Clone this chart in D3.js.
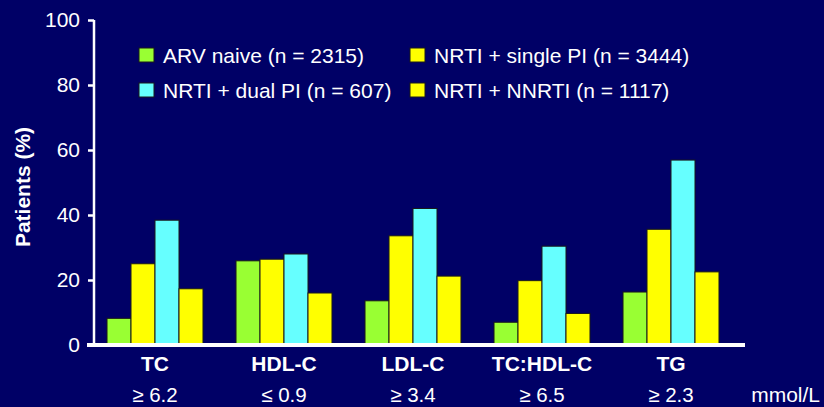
<!DOCTYPE html>
<html>
<head>
<meta charset="utf-8">
<script src="https://cdn.jsdelivr.net/npm/d3@7"></script>
<style>
  html, body { margin: 0; padding: 0; background: #000066; }
  svg { display: block; font-family: Arial, "Liberation Sans", sans-serif; }
</style>
</head>
<body>
<svg id="chart" width="824" height="407"></svg>
<script>
// Lipid parameters and their thresholds (mmol/L)
const categories = ["TC", "HDL-C", "LDL-C", "TC:HDL-C", "TG"];
const thresholds = ["\u2265 6.2", "\u2264 0.9", "\u2265 3.4", "\u2265 6.5", "\u2265 2.3"];

// Treatment groups
const seriesNames = [
  "ARV naive (n = 2315)",
  "NRTI + single PI (n = 3444)",
  "NRTI + dual PI (n = 607)",
  "NRTI + NNRTI (n = 1117)"
];
const seriesColors = ["#99ff33", "#ffff00", "#66ffff", "#ffff00"];

// Percentage of patients above/below threshold, per group
const arvNaive   = [8.2, 25.9, 13.6, 7.0, 16.3];
const singlePI   = [25.0, 26.4, 33.6, 19.8, 35.6];
const dualPI     = [38.4, 28.0, 42.0, 30.4, 56.9];
const nnrti      = [17.3, 16.0, 21.2, 9.7, 22.5];
const seriesValues = [arvNaive, singlePI, dualPI, nnrti];

const yTicks = [0, 20, 40, 60, 80, 100];

const svg = d3.select("#chart");

const x0 = d3.scaleBand().domain(categories).range([90.5, 735.5]).paddingInner(0.256).paddingOuter(0.128);
const x1 = d3.scaleBand().domain(d3.range(seriesNames.length)).range([0, x0.bandwidth()]);
const y = d3.scaleLinear().domain([0, 100]).range([345, 20]);

// Bars
const groups = svg.append("g").selectAll("g")
  .data(categories)
  .join("g")
  .attr("transform", d => `translate(${x0(d)},0)`);

groups.selectAll("rect")
  .data((d, ci) => seriesValues.map((vals, si) => ({ si, v: vals[ci] })))
  .join("rect")
  .attr("x", d => x1(d.si))
  .attr("width", x1.bandwidth())
  .attr("y", d => y(d.v))
  .attr("height", d => y(0) - y(d.v))
  .attr("fill", d => seriesColors[d.si])
  .attr("stroke", "#1a1a1a")
  .attr("stroke-width", 1);

// Y axis
const yAxis = svg.append("g")
  .attr("transform", "translate(94,0)")
  .call(d3.axisLeft(y).tickValues(yTicks).tickSize(6).tickPadding(8));
yAxis.select(".domain").attr("stroke", "#fff").attr("stroke-width", 2.5)
  .attr("d", `M0,${y(100)}V${y(0)}`);
yAxis.selectAll(".tick line").attr("stroke", "#fff").attr("stroke-width", 2.5);
yAxis.selectAll(".tick text")
  .attr("fill", "#fff")
  .style("font-size", "21px")
  .style("font-family", "Arial, 'Liberation Sans', sans-serif");

// Baseline
svg.append("line")
  .attr("x1", 87).attr("x2", 745)
  .attr("y1", y(0)).attr("y2", y(0))
  .attr("stroke", "#fff").attr("stroke-width", 4);

// Y axis title
svg.append("text")
  .attr("transform", `translate(30,187) rotate(-90)`)
  .attr("text-anchor", "middle")
  .attr("fill", "#fff")
  .style("font-size", "21px")
  .style("font-weight", "bold")
  .text("Patients (%)");

// Category labels and thresholds
svg.append("g").selectAll("text")
  .data(categories)
  .join("text")
  .attr("x", d => x0(d) + x0.bandwidth() / 2)
  .attr("y", 371)
  .attr("text-anchor", "middle")
  .attr("fill", "#fff")
  .style("font-size", "21px")
  .style("font-weight", "bold")
  .text(d => d);

svg.append("g").selectAll("text")
  .data(categories)
  .join("text")
  .attr("x", d => x0(d) + x0.bandwidth() / 2)
  .attr("y", 402)
  .attr("text-anchor", "middle")
  .attr("fill", "#fff")
  .style("font-size", "20.5px")
  .text((d, i) => thresholds[i]);

svg.append("text")
  .attr("x", 820).attr("y", 402)
  .attr("text-anchor", "end")
  .attr("fill", "#fff")
  .style("font-size", "21px")
  .text("mmol/L");

// Legend (two columns, two rows)
const legendPos = [[139, 48], [410, 48], [139, 83], [410, 83]];
const legend = svg.append("g").selectAll("g")
  .data([0, 1, 2, 3])
  .join("g")
  .attr("transform", d => `translate(${legendPos[d][0]},${legendPos[d][1]})`);
legend.append("rect")
  .attr("width", 15).attr("height", 14)
  .attr("fill", d => seriesColors[d])
  .attr("stroke", "#1a1a1a").attr("stroke-width", 1);
legend.append("text")
  .attr("x", 24).attr("y", 15)
  .attr("fill", "#fff")
  .style("font-size", "21px")
  .text(d => seriesNames[d]);
</script>
</body>
</html>
